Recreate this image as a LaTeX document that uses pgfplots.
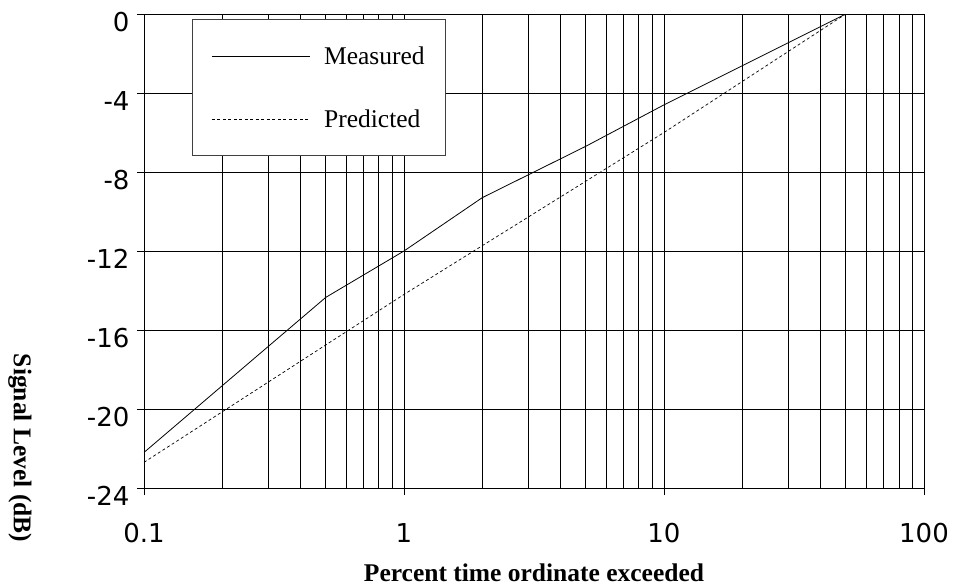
\documentclass[border=0pt]{standalone}
\usepackage{fontspec}
\setmainfont{Liberation Serif}
\newfontfamily\tickfont{DejaVu Sans}
\usepackage{pgfplots}
\pgfplotsset{compat=1.18}
\begin{document}
\begin{tikzpicture}
\begin{axis}[
  xmode=log, log basis x=10,
  scale only axis, width=780pt, height=474pt,
  xmin=0.1, xmax=100, ymin=-24, ymax=0,
  xtick={0.1,1,10,100}, xticklabels={0.1,1,10,100},
  ytick={-24,-20,-16,-12,-8,-4,0}, yticklabels={-24,-20,-16,-12,-8,-4,0},
  minor xtick={0.2,0.3,0.4,0.5,0.6,0.7,0.8,0.9,2,3,4,5,6,7,8,9,20,30,40,50,60,70,80,90},
  xminorgrids=true, xmajorgrids=true, ymajorgrids=true,
  grid style={black, line width=0.6pt},
  minor grid style={black, line width=0.6pt},
  axis line style={black, line width=0.8pt},
  tick align=outside, xtick pos=bottom, ytick pos=left,
  major tick length=7pt, minor tick length=0pt,
  tick style={black, line width=0.8pt},
  ticklabel style={font=\tickfont\fontsize{26}{30}\selectfont},
  xticklabel style={yshift=-25pt},
  yticklabel style={yshift=-8pt, xshift=-4pt},
  xlabel={\textbf{Percent time ordinate exceeded}},
  xlabel style={font=\fontsize{25.5}{30}\selectfont, at={(axis description cs:0.5,0)}, anchor=north, yshift=-72pt},
  ylabel={\textbf{Signal Level (dB)}},
  ylabel style={font=\fontsize{25.5}{30}\selectfont, at={(axis description cs:-0.159,0.084)}, anchor=center, rotate=180},
  legend image code/.code={\draw[#1] (0pt,0pt) -- (98pt,0pt);},
  legend style={draw=black!75, line width=0.8pt, fill=white,
    at={(rel axis cs:0.0615,0.9895)}, anchor=north west,
    font=\fontsize{25.5}{30}\selectfont,
    inner xsep=19pt, inner ysep=25pt, row sep=40pt, column sep=12pt,
    nodes={inner sep=2pt}},
  legend cell align=left,
]
\addplot[black, line width=0.8pt] coordinates {
  (0.1,-22.2) (0.5,-14.35) (1,-12.0) (2,-9.3) (5,-6.7) (10,-4.6) (50,0)
};
\addlegendentry{Measured}
\addplot[black, line width=0.7pt, dash pattern=on 3pt off 2.5pt] coordinates {
  (0.1,-22.7) (1,-14.2) (10,-6.0) (50,0)
};
\addlegendentry{Predicted}
\coordinate (bl) at (rel axis cs:0,0);
\end{axis}
\pgfresetboundingbox
\path (bl) ++(-144pt,-99pt) rectangle ++(954pt,587pt);
\end{tikzpicture}
\end{document}
